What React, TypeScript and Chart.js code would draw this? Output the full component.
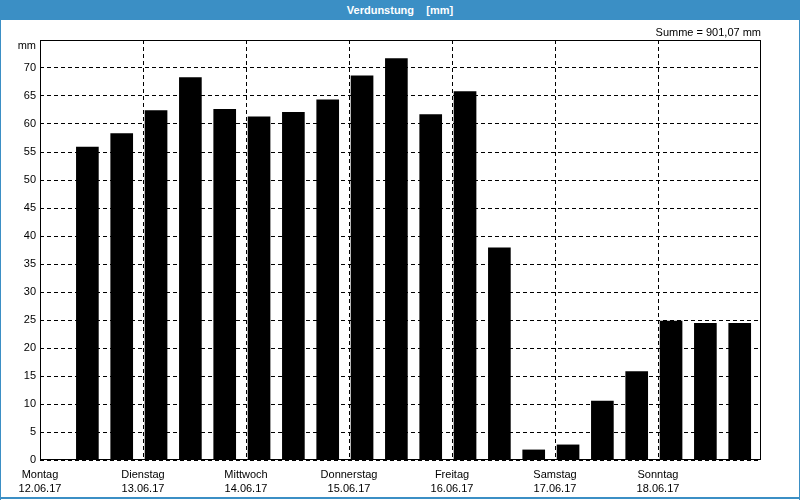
import React, { useEffect, useRef } from "react";
import { Chart, registerables } from "chart.js";

Chart.register(...registerables);

const TITLE = "Verdunstung    [mm]";
const SUM_LABEL = "Summe = 901,07 mm";
const UNIT_LABEL = "mm";
const DAY_NAMES = ["Montag", "Dienstag", "Mittwoch", "Donnerstag", "Freitag", "Samstag", "Sonntag"];
const DAY_DATES = ["12.06.17", "13.06.17", "14.06.17", "15.06.17", "16.06.17", "17.06.17", "18.06.17"];
// evaporation per 8-hour period (slot index 1..20; slot 0 of Monday is empty)
const SLOT_INDEX = [1, 2, 3, 4, 5, 6, 7, 8, 9, 10, 11, 12, 13, 14, 15, 16, 17, 18, 19, 20];
const VALUES = [55.9, 58.3, 62.4, 68.3, 62.6, 61.3, 62.1, 64.3, 68.6, 71.7, 61.7, 65.8, 37.9, 1.8, 2.7, 10.5, 15.8, 24.8, 24.4, 24.4];
const SLOTS_PER_DAY = 3;
const Y_MAX = 75;
const Y_STEP = 5;

const BLUE = "#3b8fc5";
const FONT = "'Liberation Sans', Arial, sans-serif";
const X_SHIFT = 0.38;

export default function App() {
  const ref = useRef<HTMLCanvasElement | null>(null);

  useEffect(() => {
    document.body.style.margin = "0";
    const canvas = ref.current;
    if (!canvas) return;

    const framePlugin = {
      id: "frame",
      afterDraw(chart: any) {
        const { ctx, chartArea } = chart;
        ctx.save();
        ctx.setLineDash([]);
        ctx.strokeStyle = "#000";
        ctx.lineWidth = 1;
        const l = Math.round(chartArea.left) + 0.5;
        const t = Math.round(chartArea.top) + 0.5;
        const r = Math.round(chartArea.right) - 0.5;
        const b = Math.round(chartArea.bottom) - 0.5;
        ctx.strokeRect(l, t, r - l, b - t);
        ctx.fillStyle = "#000";
        ctx.font = `11px ${FONT}`;
        ctx.textAlign = "right";
        ctx.textBaseline = "middle";
        ctx.fillText(SUM_LABEL, chartArea.right, chartArea.top - 7);
        ctx.fillText(UNIT_LABEL, chartArea.left - 4, chartArea.top + 6);
        ctx.restore();
      },
    };

    const numDays = DAY_NAMES.length;
    const xMin = -X_SHIFT;
    const xMax = numDays * SLOTS_PER_DAY - X_SHIFT;

    const chart = new Chart(canvas, {
      type: "bar",
      data: {
        datasets: [
          {
            data: SLOT_INDEX.map((s, i) => ({ x: s, y: VALUES[i] })),
            backgroundColor: "#000",
            borderWidth: 0,
            barThickness: 22,
          },
        ],
      },
      options: {
        animation: false,
        responsive: false,
        maintainAspectRatio: false,
        layout: { padding: { top: 20, right: 39, left: 0, bottom: 0 } },
        plugins: { legend: { display: false }, tooltip: { enabled: false }, title: { display: false } },
        scales: {
          x: {
            type: "linear",
            min: xMin,
            max: xMax,
            offset: false,
            afterBuildTicks(scale: any) {
              const ticks = [];
              for (let j = 0; j < numDays; j++) ticks.push({ value: xMin + j * SLOTS_PER_DAY });
              scale.ticks = ticks;
            },
            afterFit(scale: any) {
              scale.height = 40;
            },
            ticks: {
              autoSkip: false,
              maxRotation: 0,
              padding: 8,
              color: "#000",
              font: { family: FONT, size: 11, lineHeight: 1.27 },
              callback(value: any, index: number) {
                if (index >= DAY_NAMES.length) return "";
                return [DAY_NAMES[index], DAY_DATES[index]];
              },
            },
            grid: { color: "#000", lineWidth: 1, drawTicks: false, offset: false },
            border: { display: false, dash: [4, 3] },
          },
          y: {
            min: 0,
            max: Y_MAX,
            afterFit(scale: any) {
              scale.width = 40;
            },
            ticks: {
              stepSize: Y_STEP,
              padding: 4,
              color: "#000",
              font: { family: FONT, size: 11 },
              callback(value: any) {
                return value >= Y_MAX ? "" : String(value);
              },
            },
            grid: { color: "#000", lineWidth: 1, drawTicks: false },
            border: { display: false, dash: [4, 3] },
          },
        },
      },
      plugins: [framePlugin],
    } as any);

    return () => chart.destroy();
  }, []);

  return (
    <div style={{ position: "relative", width: 800, height: 500, background: "#fff", overflow: "hidden" }}>
      <div
        style={{
          position: "absolute",
          left: 0,
          top: 0,
          width: 800,
          height: 20,
          background: BLUE,
          color: "#fff",
          fontFamily: FONT,
          fontWeight: "bold",
          fontSize: 11,
          lineHeight: "20px",
          textAlign: "center",
          whiteSpace: "pre",
        }}
      >
        {TITLE}
      </div>
      <canvas ref={ref} width={800} height={480} style={{ position: "absolute", left: 0, top: 20, width: 800, height: 480 }} />
      <div style={{ position: "absolute", left: 0, top: 0, width: 1, height: 500, background: BLUE }} />
      <div style={{ position: "absolute", right: 0, top: 0, width: 1, height: 500, background: BLUE }} />
      <div style={{ position: "absolute", left: 0, top: 497, width: 800, height: 2, background: BLUE }} />
    </div>
  );
}
